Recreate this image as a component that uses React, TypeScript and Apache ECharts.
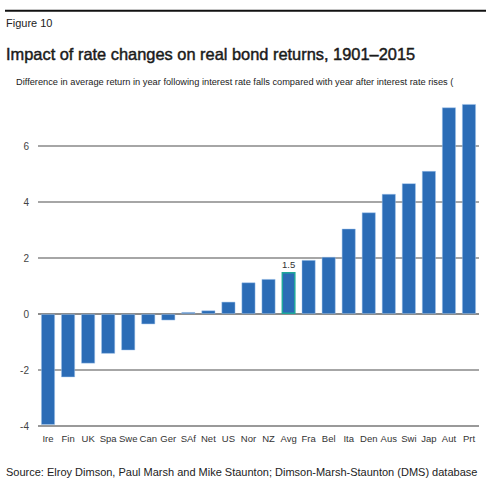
import React, { useEffect, useRef } from "react";
import * as echarts from "echarts";

const categories = ["Ire", "Fin", "UK", "Spa", "Swe", "Can", "Ger", "SAf", "Net", "US", "Nor", "NZ", "Avg", "Fra", "Bel", "Ita", "Den", "Aus", "Swi", "Jap", "Aut", "Prt"];
const values = [-3.96, -2.26, -1.77, -1.42, -1.3, -0.37, -0.23, 0.07, 0.13, 0.44, 1.13, 1.25, 1.5, 1.93, 2.04, 3.05, 3.63, 4.29, 4.67, 5.11, 7.38, 7.5];
const highlighted = "Avg";
const yMin = -4;
const yMax = 7.6;
const yStep = 2;

const figureLabel = "Figure 10";
const titleText = "Impact of rate changes on real bond returns, 1901\u20132015";
const subtitleText = "Difference in average return in year following interest rate falls compared with year after interest rate rises (";
const sourceText = "Source: Elroy Dimson, Paul Marsh and Mike Staunton; Dimson-Marsh-Staunton (DMS) database";

export default function App() {
  const ref = useRef<HTMLDivElement>(null);
  useEffect(() => {
    if (!ref.current) return;
    const chart = echarts.init(ref.current, null, { renderer: "svg" });
    const font = "Liberation Sans, Arial, sans-serif";
    chart.setOption({
      animation: false,
      backgroundColor: "#ffffff",
      textStyle: { fontFamily: font },
      grid: { left: 38, right: 7, top: 101.2, bottom: 60, containLabel: false, outerBoundsMode: "none" },
      xAxis: {
        type: "category",
        data: categories,
        axisLine: { show: false, onZero: false },
        axisTick: { show: false },
        axisLabel: { color: "#333", fontSize: 9.5, margin: 7, interval: 0, fontFamily: font },
      },
      yAxis: {
        type: "value",
        min: yMin,
        max: yMax,
        interval: yStep,
        axisLine: { show: false },
        axisTick: { show: false },
        axisLabel: { color: "#444", fontSize: 10, margin: 9, showMaxLabel: false, fontFamily: font },
        splitLine: {
          show: true,
          showMaxLine: false,
          lineStyle: { color: ["#777", "#888", "#666", "#888", "#888", "#888", "rgba(0,0,0,0)"], width: 1.5 },
        },
      },
      series: [
        {
          type: "bar",
          barWidth: 14,
          data: categories.map((c, i) =>
            c === highlighted
              ? {
                  value: values[i],
                  itemStyle: { color: "#2b6cb6", borderColor: "#1fa89b", borderWidth: 1.5 },
                  label: {
                    show: true,
                    position: "top",
                    distance: 3,
                    color: "#333",
                    fontSize: 9.5,
                    formatter: (p: any) => String(p.value),
                  },
                }
              : { value: values[i] }
          ),
          itemStyle: { color: "#2b6cb6", borderColor: "rgba(160,195,235,0.6)", borderWidth: 0.8 },
        },
      ],
      graphic: [
        { type: "line", shape: { x1: 5, y1: 10.7, x2: 486, y2: 10.7 }, style: { stroke: "#111", lineWidth: 2 } },
        { type: "text", x: 6, y: 23, style: { text: figureLabel, font: `11px ${font}`, fill: "#222", textVerticalAlign: "middle" } },
        { type: "text", x: 6, y: 54, style: { text: titleText, font: `16.4px ${font}`, fill: "#1a1a1a", stroke: "#1a1a1a", lineWidth: 0.45, textVerticalAlign: "middle" } },
        { type: "text", x: 16, y: 82, style: { text: subtitleText, font: `9.25px ${font}`, fill: "#222", textVerticalAlign: "middle" } },
        { type: "text", x: 6, y: 472, style: { text: sourceText, font: `11px ${font}`, fill: "#222", textVerticalAlign: "middle" } },
      ],
    });
    return () => chart.dispose();
  }, []);
  return <div ref={ref} style={{ position: "fixed", left: 0, top: 0, width: 486, height: 486 }} />;
}
